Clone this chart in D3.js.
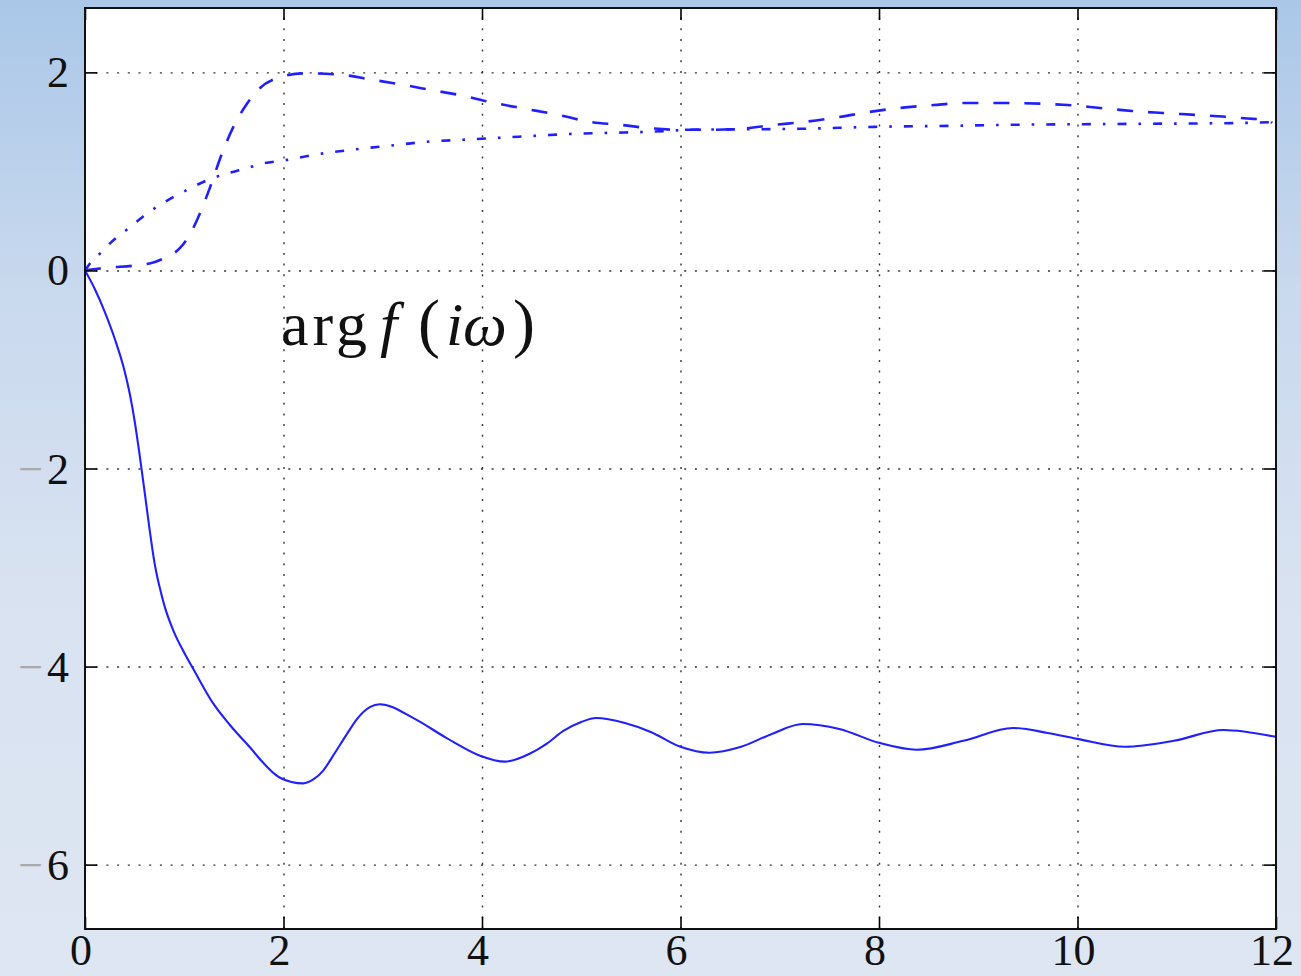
<!DOCTYPE html>
<html>
<head>
<meta charset="utf-8">
<script src="https://cdn.jsdelivr.net/npm/d3@7"></script>
<style>
  html, body { margin: 0; padding: 0; background: #dfe6f2; }
  svg { display: block; }
</style>
</head>
<body>
<svg id="chart" width="1301" height="976"></svg>
<script>
// ---- data ----
const xTicks = [0, 2, 4, 6, 8, 10, 12];
const yTicks = [-6, -4, -2, 0, 2];
const xTickLabels = ["0", "2", "4", "6", "8", "10", "12"];
const yTickLabels = ["\u22126", "\u22124", "\u22122", "0", "2"];

const solidX = [0, 0.1, 0.2, 0.3, 0.4, 0.45, 0.5, 0.55, 0.6, 0.65, 0.7, 0.725, 0.75, 0.8, 0.9, 1.0, 1.1, 1.29, 1.46, 1.63, 1.96, 2.08, 2.2, 2.3, 2.40, 2.50, 2.64, 2.74, 2.87, 2.97, 3.31, 3.64, 3.98, 4.23, 4.48, 4.65, 4.82, 5.0, 5.15, 5.44, 5.70, 6.0, 6.29, 6.61, 6.92, 7.23, 7.6, 8.0, 8.38, 8.85, 9.35, 9.7, 10.0, 10.48, 10.97, 11.47, 12.0];
const solidY = [0, -0.19, -0.42, -0.69, -1.02, -1.24, -1.52, -1.86, -2.23, -2.61, -2.95, -3.08, -3.19, -3.385, -3.66, -3.86, -4.04, -4.37, -4.59, -4.78, -5.12, -5.165, -5.18, -5.14, -5.05, -4.90, -4.68, -4.53, -4.41, -4.38, -4.52, -4.72, -4.90, -4.96, -4.88, -4.78, -4.65, -4.56, -4.52, -4.57, -4.66, -4.81, -4.87, -4.81, -4.68, -4.58, -4.63, -4.77, -4.84, -4.75, -4.62, -4.67, -4.73, -4.81, -4.75, -4.64, -4.71];

const dashedX = [0, 0.15, 0.65, 0.79, 0.96, 1.06, 1.16, 1.26, 1.38, 1.49, 1.63, 1.76, 1.96, 2.2, 2.54, 2.87, 3.17, 3.5, 3.83, 4.13, 4.45, 4.77, 5.09, 5.4, 5.65, 6.0, 6.3, 6.6, 6.95, 7.25, 7.6, 7.9, 8.2, 8.55, 8.85, 9.29, 9.9, 10.23, 10.55, 10.86, 11.2, 11.52, 11.77, 11.9, 11.96];
const dashedY = [0, 0.02, 0.07, 0.12, 0.23, 0.37, 0.58, 0.84, 1.18, 1.44, 1.68, 1.84, 1.95, 1.99, 1.98, 1.93, 1.88, 1.82, 1.76, 1.69, 1.63, 1.57, 1.50, 1.47, 1.44, 1.42, 1.42, 1.43, 1.47, 1.50, 1.55, 1.60, 1.64, 1.67, 1.69, 1.69, 1.67, 1.64, 1.61, 1.59, 1.57, 1.55, 1.53, 1.525, 1.49];

const dashdotX = [0, 0.05, 0.15, 0.28, 0.42, 0.58, 0.72, 0.89, 1.06, 1.23, 1.43, 1.59, 1.79, 2.0, 2.32, 2.70, 3.07, 3.45, 3.81, 4.18, 4.55, 4.92, 5.32, 5.69, 6.1, 7.2, 7.96, 8.72, 9.29, 10.56, 11.7, 12.0];
const dashdotY = [0, 0.07, 0.17, 0.30, 0.41, 0.54, 0.64, 0.74, 0.83, 0.91, 0.98, 1.02, 1.08, 1.11, 1.17, 1.22, 1.26, 1.30, 1.32, 1.34, 1.36, 1.38, 1.39, 1.40, 1.42, 1.43, 1.45, 1.46, 1.47, 1.48, 1.49, 1.50];

// ---- layout ----
const W = 1301, H = 976;
const pL = 85, pR = 1276, pT = 8, pB = 929;
const svg = d3.select("#chart");

const defs = svg.append("defs");
const grad = defs.append("linearGradient").attr("id", "bg").attr("x1", 0).attr("y1", 0).attr("x2", 0).attr("y2", 1);
grad.append("stop").attr("offset", "0%").attr("stop-color", "#aac7e8");
grad.append("stop").attr("offset", "30%").attr("stop-color", "#c9d9ee");
grad.append("stop").attr("offset", "60%").attr("stop-color", "#d8e2f1");
grad.append("stop").attr("offset", "100%").attr("stop-color", "#dee6f2");
defs.append("clipPath").attr("id", "clip")
  .append("rect").attr("x", pL).attr("y", pT).attr("width", pR - pL).attr("height", pB - pT);
svg.append("rect").attr("width", W).attr("height", H).attr("fill", "url(#bg)");

const x = d3.scaleLinear().domain([0, 12]).range([pL, pR]);
const y = d3.scaleLinear().domain([-6.65, 2.65]).range([pB, pT]);

svg.append("rect").attr("x", pL).attr("y", pT).attr("width", pR - pL).attr("height", pB - pT).attr("fill", "#fff");

// grid
const gridStyle = g => g.call(s => s.select(".domain").remove())
  .call(s => s.selectAll(".tick line").attr("stroke", "#333").attr("stroke-width", 1.4).attr("stroke-dasharray", "2,8.7"))
  .call(s => s.selectAll(".tick text").remove());
svg.append("g").attr("transform", `translate(0,${pB})`)
  .call(d3.axisBottom(x).tickValues(xTicks.slice(1, -1)).tickSize(-(pB - pT))).call(gridStyle);
svg.append("g").attr("transform", `translate(${pL},0)`)
  .call(d3.axisLeft(y).tickValues(yTicks).tickSize(-(pR - pL))).call(gridStyle);

// lines
const line = d3.line().x(d => x(d[0])).y(d => y(d[1])).curve(d3.curveMonotoneX);
const series = [
  { xs: solidX, ys: solidY, dash: null, w: 2.1 },
  { xs: dashedX, ys: dashedY, dash: "16,15", w: 2.6 },
  { xs: dashdotX, ys: dashdotY, dash: "9,12,2.6,12", w: 2.6 }
];
series.forEach(s => {
  svg.append("path")
    .datum(s.xs.map((v, i) => [v, s.ys[i]]))
    .attr("clip-path", "url(#clip)")
    .attr("fill", "none")
    .attr("stroke", "#1f1fff")
    .attr("stroke-width", s.w)
    .attr("stroke-dasharray", s.dash)
    .attr("d", line);
});

// ticks (inside, on all four sides)
const tickStyle = g => g.call(s => s.select(".domain").remove())
  .call(s => s.selectAll(".tick line").attr("stroke", "#000").attr("stroke-width", 1.6))
  .call(s => s.selectAll(".tick text").remove());
svg.append("g").attr("transform", `translate(0,${pB})`).call(d3.axisBottom(x).tickValues(xTicks).tickSize(-12)).call(tickStyle);
svg.append("g").attr("transform", `translate(0,${pT})`).call(d3.axisTop(x).tickValues(xTicks).tickSize(-12)).call(tickStyle);
svg.append("g").attr("transform", `translate(${pL},0)`).call(d3.axisLeft(y).tickValues(yTicks).tickSize(-12)).call(tickStyle);
svg.append("g").attr("transform", `translate(${pR},0)`).call(d3.axisRight(y).tickValues(yTicks).tickSize(-12)).call(tickStyle);

// frame
svg.append("rect").attr("x", pL).attr("y", pT).attr("width", pR - pL).attr("height", pB - pT)
  .attr("fill", "none").attr("stroke", "#111").attr("stroke-width", 2);

// tick labels
const font = "'Liberation Serif', 'DejaVu Serif', serif";
svg.append("g").selectAll("text").data(xTicks).join("text")
  .attr("x", d => x(d) - 4).attr("y", 965)
  .attr("text-anchor", "middle").attr("font-family", font).attr("font-size", 44).attr("fill", "#111")
  .text((d, i) => xTickLabels[i]);

const yl = svg.append("g").selectAll("text").data(yTicks).join("text")
  .attr("x", 69).attr("y", d => y(d) + 15)
  .attr("text-anchor", "end").attr("font-family", font).attr("font-size", 44).attr("fill", "#111");
yl.each(function(d, i) {
  const t = d3.select(this);
  const lab = yTickLabels[i];
  if (lab.startsWith("\u2212")) {
    t.append("tspan").attr("fill", "#a9a9a9").text("\u2212");
    t.append("tspan").attr("dx", 4).text(lab.slice(1));
  } else {
    t.text(lab);
  }
});

// annotation: arg f(iω)
const ann = svg.append("text").attr("y", 345)
  .attr("font-family", font).attr("font-size", 62).attr("fill", "#111");
ann.append("tspan").attr("x", 281).attr("textLength", 86).attr("lengthAdjust", "spacing").text("arg");
ann.append("tspan").attr("x", 380).attr("font-style", "italic").text("f");
ann.append("tspan").attr("x", 418).attr("font-size", 66).text("(");
ann.append("tspan").attr("x", 446).attr("font-style", "italic").text("i");
ann.append("tspan").attr("x", 463).attr("font-style", "italic").text("\u03c9");
ann.append("tspan").attr("x", 513).attr("font-size", 66).text(")");
</script>
</body>
</html>
